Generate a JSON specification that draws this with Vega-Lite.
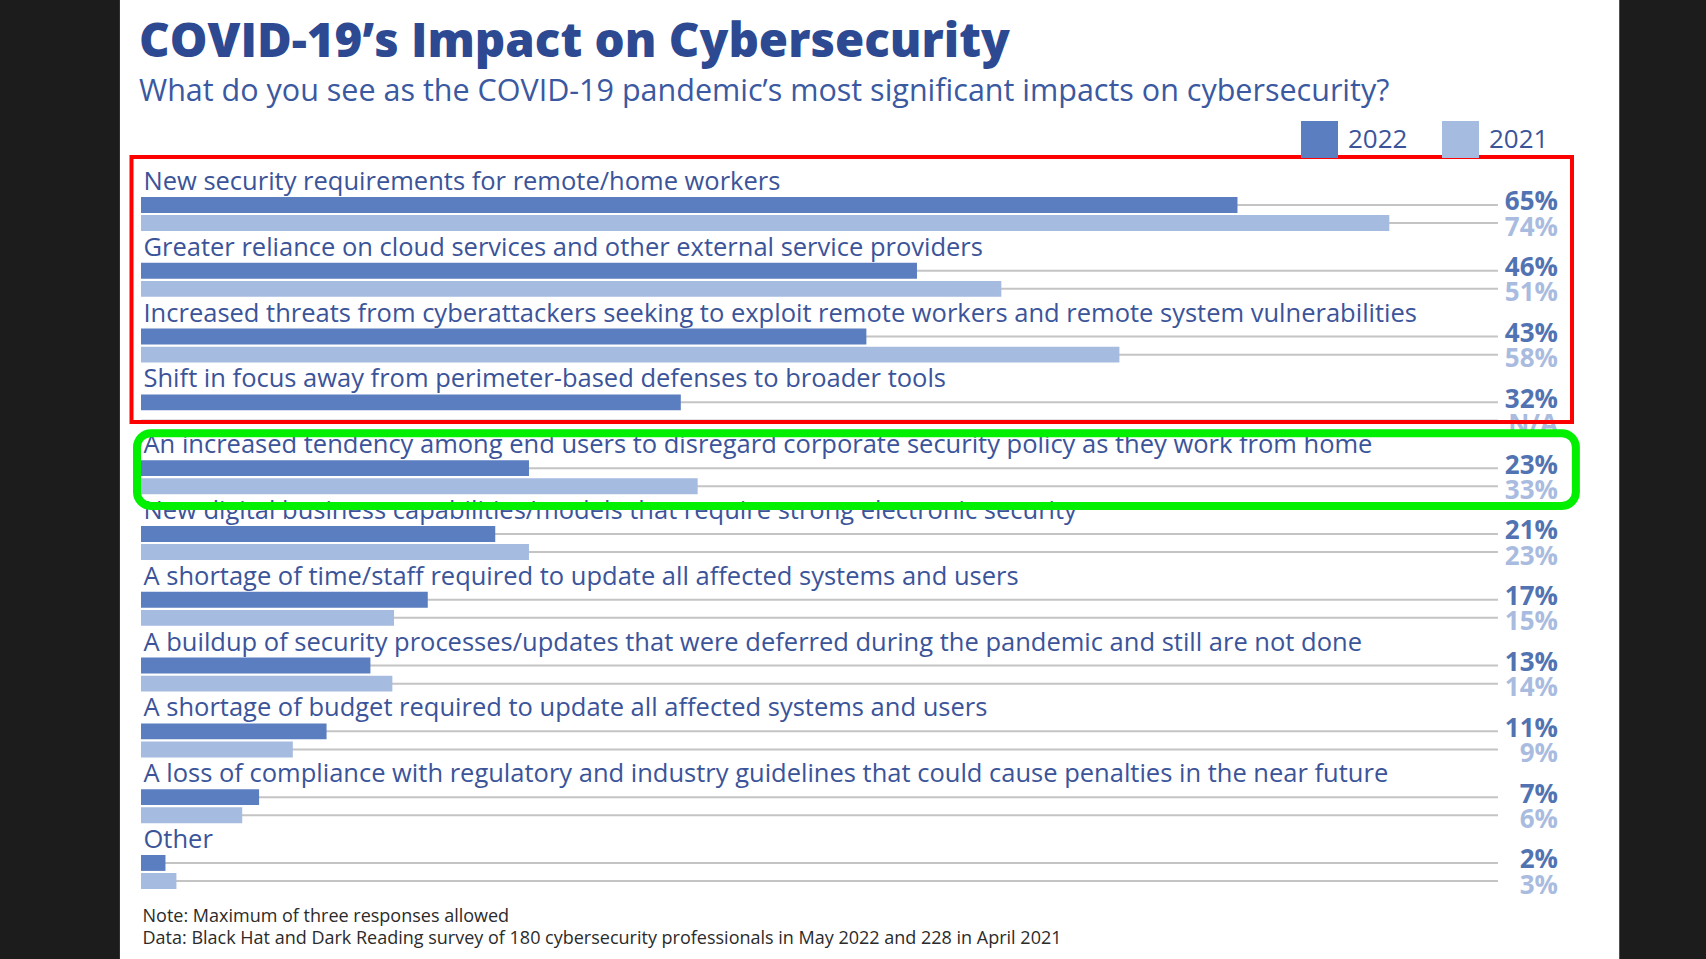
{
  "$schema": "https://vega.github.io/schema/vega-lite/v6.json",
  "width": 1417,
  "height": 723.8,
  "autosize": {"type": "none"},
  "padding": {"left": 141, "top": 166, "right": 148, "bottom": 69.2},
  "background": "#1c1c1c",
  "config": {"view": {"stroke": null}, "font": "Open Sans"},
  "title": {
    "text": "COVID-19’s Impact on Cybersecurity",
    "subtitle": "What do you see as the COVID-19 pandemic’s most significant impacts on cybersecurity?",
    "anchor": "start",
    "frame": "group",
    "dx": -2,
    "offset": -109.2,
    "font": "Open Sans",
    "fontSize": 47.4,
    "fontWeight": 800,
    "color": "#2c4992",
    "subtitleFont": "Open Sans",
    "subtitleFontSize": 30.5,
    "subtitleColor": "#3b59a0",
    "subtitlePadding": 10
  },
  "datasets": {
    "bars": [
      {"cat": "New security requirements for remote/home workers", "year": "2022", "value": 65, "label": "65%"},
      {"cat": "New security requirements for remote/home workers", "year": "2021", "value": 74, "label": "74%"},
      {"cat": "Greater reliance on cloud services and other external service providers", "year": "2022", "value": 46, "label": "46%"},
      {"cat": "Greater reliance on cloud services and other external service providers", "year": "2021", "value": 51, "label": "51%"},
      {"cat": "Increased threats from cyberattackers seeking to exploit remote workers and remote system vulnerabilities", "year": "2022", "value": 43, "label": "43%"},
      {"cat": "Increased threats from cyberattackers seeking to exploit remote workers and remote system vulnerabilities", "year": "2021", "value": 58, "label": "58%"},
      {"cat": "Shift in focus away from perimeter-based defenses to broader tools", "year": "2022", "value": 32, "label": "32%"},
      {"cat": "Shift in focus away from perimeter-based defenses to broader tools", "year": "2021", "value": null, "label": "N/A"},
      {"cat": "An increased tendency among end users to disregard corporate security policy as they work from home", "year": "2022", "value": 23, "label": "23%"},
      {"cat": "An increased tendency among end users to disregard corporate security policy as they work from home", "year": "2021", "value": 33, "label": "33%"},
      {"cat": "New digital business capabilities/models that require strong electronic security", "year": "2022", "value": 21, "label": "21%"},
      {"cat": "New digital business capabilities/models that require strong electronic security", "year": "2021", "value": 23, "label": "23%"},
      {"cat": "A shortage of time/staff required to update all affected systems and users", "year": "2022", "value": 17, "label": "17%"},
      {"cat": "A shortage of time/staff required to update all affected systems and users", "year": "2021", "value": 15, "label": "15%"},
      {"cat": "A buildup of security processes/updates that were deferred during the pandemic and still are not done", "year": "2022", "value": 13.6, "label": "13%"},
      {"cat": "A buildup of security processes/updates that were deferred during the pandemic and still are not done", "year": "2021", "value": 14.9, "label": "14%"},
      {"cat": "A shortage of budget required to update all affected systems and users", "year": "2022", "value": 11, "label": "11%"},
      {"cat": "A shortage of budget required to update all affected systems and users", "year": "2021", "value": 9, "label": "9%"},
      {"cat": "A loss of compliance with regulatory and industry guidelines that could cause penalties in the near future", "year": "2022", "value": 7, "label": "7%"},
      {"cat": "A loss of compliance with regulatory and industry guidelines that could cause penalties in the near future", "year": "2021", "value": 6, "label": "6%"},
      {"cat": "Other", "year": "2022", "value": 1.45, "label": "2%"},
      {"cat": "Other", "year": "2021", "value": 2.1, "label": "3%"}
    ],
    "panel": [{"x1": -1.25, "x2": 87.63, "y1": -2.53, "y2": 12.06}],
    "boxes": [
      {"box": "red", "x1": -0.563, "x2": 84.83, "y1": -0.137, "y2": 3.89},
      {"box": "green", "x1": -0.237, "x2": 85.06, "y1": 4.06, "y2": 5.167}
    ],
    "notes": [
      {"note": ["Note: Maximum of three responses allowed", "Data: Black Hat and Dark Reading survey of 180 cybersecurity professionals in May 2022 and 228 in April 2021"]}
    ]
  },
  "resolve": {"scale": {"y": "independent"}},
  "layer": [
    {
      "data": {"name": "panel"},
      "mark": {"type": "rect", "fill": "#ffffff"},
      "encoding": {
        "x": {"field": "x1", "type": "quantitative", "scale": {"domain": [0, 84], "nice": false, "zero": false}, "axis": null},
        "x2": {"field": "x2"},
        "y": {"field": "y1", "type": "quantitative", "scale": {"domain": [0, 11], "reverse": true, "nice": false, "zero": false}, "axis": null},
        "y2": {"field": "y2"}
      }
    },
    {
      "data": {"name": "bars"},
      "encoding": {
        "y": {"field": "cat", "type": "nominal", "axis": null,
          "scale": {"domain": [
            "New security requirements for remote/home workers",
            "Greater reliance on cloud services and other external service providers",
            "Increased threats from cyberattackers seeking to exploit remote workers and remote system vulnerabilities",
            "Shift in focus away from perimeter-based defenses to broader tools",
            "An increased tendency among end users to disregard corporate security policy as they work from home",
            "New digital business capabilities/models that require strong electronic security",
            "A shortage of time/staff required to update all affected systems and users",
            "A buildup of security processes/updates that were deferred during the pandemic and still are not done",
            "A shortage of budget required to update all affected systems and users",
            "A loss of compliance with regulatory and industry guidelines that could cause penalties in the near future",
            "Other"
          ], "paddingInner": 0, "paddingOuter": 0}}
      },
      "layer": [
        {
          "mark": {"type": "rule", "color": "#c4c4c4", "strokeWidth": 2},
          "encoding": {
            "yOffset": {"field": "year", "type": "nominal", "scale": {"domain": ["2022", "2021"], "range": [31, 65], "paddingInner": 0.12, "paddingOuter": 0}},
            "x": {"datum": 0, "type": "quantitative", "scale": {"domain": [0, 84], "nice": false, "zero": false}, "axis": null},
            "x2": {"datum": 80.44}
          }
        },
        {
          "mark": {"type": "bar"},
          "encoding": {
            "yOffset": {"field": "year", "type": "nominal", "scale": {"domain": ["2022", "2021"], "range": [31, 65], "paddingInner": 0.12, "paddingOuter": 0}},
            "x": {"field": "value", "type": "quantitative", "scale": {"domain": [0, 84], "nice": false, "zero": false}, "axis": null},
            "color": {"field": "year", "type": "nominal",
              "scale": {"domain": ["2022", "2021"], "range": ["#5b7ec0", "#a6bbe0"]},
              "legend": {"orient": "none", "legendX": 1160, "legendY": -45, "direction": "horizontal", "title": null,
                "symbolType": "square", "symbolSize": 1369, "symbolStrokeWidth": 0, "symbolOpacity": 1,
                "labelFont": "Open Sans", "labelFontSize": 26, "labelColor": "#3b5499", "labelOffset": 10,
                "columnPadding": 34, "padding": 0}}
          }
        },
        {
          "transform": [{"filter": "datum.year === '2022'"}],
          "mark": {"type": "text", "align": "left", "baseline": "alphabetic", "dx": 2.5, "dy": -9, "fontSize": 25.5, "color": "#3b5499", "font": "Open Sans"},
          "encoding": {
            "x": {"datum": 0, "type": "quantitative", "scale": {"domain": [0, 84], "nice": false, "zero": false}, "axis": null},
            "text": {"field": "cat"}
          }
        },
        {
          "transform": [{"filter": "datum.year === '2022'"}],
          "mark": {"type": "text", "align": "right", "baseline": "alphabetic", "dy": 5.5, "fontSize": 26, "fontWeight": "bold", "color": "#5273b2", "font": "Open Sans"},
          "encoding": {
            "yOffset": {"field": "year", "type": "nominal", "scale": {"domain": ["2022", "2021"], "range": [31, 65], "paddingInner": 0.12, "paddingOuter": 0}},
            "x": {"datum": 84, "type": "quantitative", "scale": {"domain": [0, 84], "nice": false, "zero": false}, "axis": null},
            "text": {"field": "label"}
          }
        },
        {
          "transform": [{"filter": "datum.year === '2021'"}],
          "mark": {"type": "text", "align": "right", "baseline": "alphabetic", "dy": 12.5, "fontSize": 26, "fontWeight": "bold", "color": "#a9bce0", "font": "Open Sans"},
          "encoding": {
            "yOffset": {"field": "year", "type": "nominal", "scale": {"domain": ["2022", "2021"], "range": [31, 65], "paddingInner": 0.12, "paddingOuter": 0}},
            "x": {"datum": 84, "type": "quantitative", "scale": {"domain": [0, 84], "nice": false, "zero": false}, "axis": null},
            "text": {"field": "label"}
          }
        }
      ]
    },
    {
      "data": {"name": "boxes"},
      "transform": [{"filter": "datum.box === 'red'"}],
      "mark": {"type": "rect", "fill": null, "fillOpacity": 0, "stroke": "#ff0000", "strokeWidth": 4},
      "encoding": {
        "x": {"field": "x1", "type": "quantitative", "scale": {"domain": [0, 84], "nice": false, "zero": false}, "axis": null},
        "x2": {"field": "x2"},
        "y": {"field": "y1", "type": "quantitative", "scale": {"domain": [0, 11], "reverse": true, "nice": false, "zero": false}, "axis": null},
        "y2": {"field": "y2"}
      }
    },
    {
      "data": {"name": "boxes"},
      "transform": [{"filter": "datum.box === 'green'"}],
      "mark": {"type": "rect", "fill": null, "fillOpacity": 0, "stroke": "#00f000", "strokeWidth": 8, "cornerRadius": 14},
      "encoding": {
        "x": {"field": "x1", "type": "quantitative", "scale": {"domain": [0, 84], "nice": false, "zero": false}, "axis": null},
        "x2": {"field": "x2"},
        "y": {"field": "y1", "type": "quantitative", "scale": {"domain": [0, 11], "reverse": true, "nice": false, "zero": false}, "axis": null},
        "y2": {"field": "y2"}
      }
    },
    {
      "data": {"name": "notes"},
      "mark": {"type": "text", "align": "left", "baseline": "alphabetic", "dx": 1.5, "fontSize": 18, "lineHeight": 22, "color": "#2b2b2b", "font": "Open Sans"},
      "encoding": {
        "x": {"datum": 0, "type": "quantitative", "scale": {"domain": [0, 84], "nice": false, "zero": false}, "axis": null},
        "y": {"datum": 11.485, "type": "quantitative", "scale": {"domain": [0, 11], "reverse": true, "nice": false, "zero": false}, "axis": null},
        "text": {"field": "note"}
      }
    }
  ]
}
